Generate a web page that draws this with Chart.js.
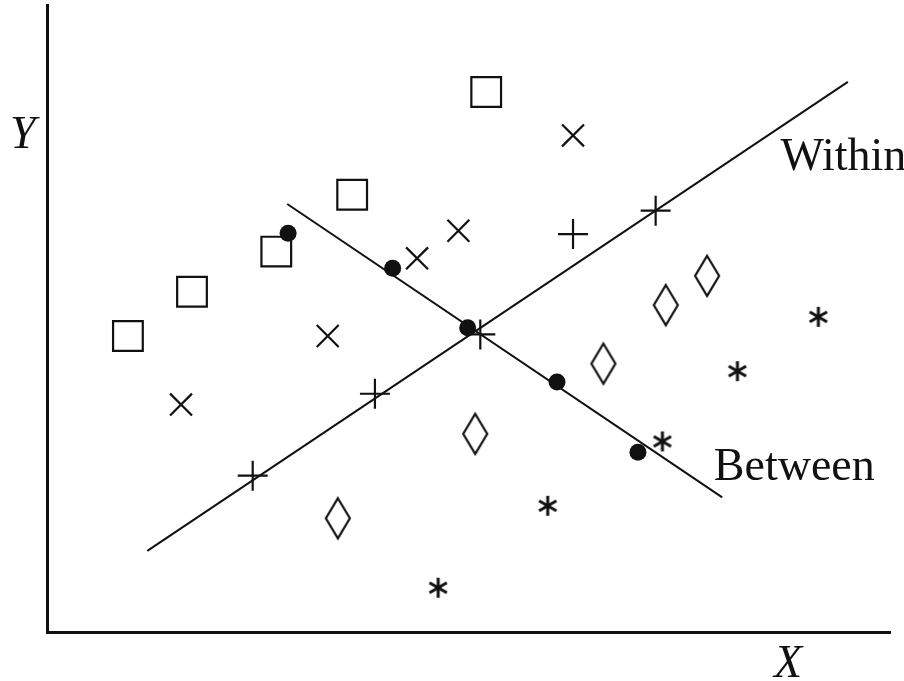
<!DOCTYPE html>
<html>
<head>
<meta charset="utf-8">
<script src="https://cdn.jsdelivr.net/npm/chart.js@4.4.0/dist/chart.umd.min.js"></script>
<style>
  html, body { margin: 0; padding: 0; background: #fff; }
  #wrap { width: 904px; height: 681px; }
</style>
</head>
<body>
<div id="wrap"><canvas id="myChart"></canvas></div>
<script>
// groups of points (x, y)
const squares   = [[9.6, 35.4], [17.2, 40.7], [27.2, 45.5], [36.2, 52.3], [52.1, 64.6]];
const crosses   = [[15.9, 27.2], [33.3, 35.4], [43.9, 44.7], [48.8, 48.0], [62.4, 59.4]];
const pluses    = [[24.4, 18.7], [38.9, 28.5], [51.4, 35.6], [62.4, 47.6], [72.2, 50.4]];
const diamonds  = [[34.5, 13.6], [50.8, 23.7], [66.0, 32.1], [73.4, 39.1], [78.3, 42.6]];
const stars     = [[46.4, 5.3], [59.4, 15.1], [73.0, 22.8], [81.9, 31.2], [91.5, 37.7]];
const means     = [[28.6, 47.7], [41.0, 43.5], [49.9, 36.4], [60.5, 29.9], [70.1, 21.5]];

const withinLine  = [[11.9, 9.7], [95.0, 65.8]];
const betweenLine = [[28.5, 51.2], [80.1, 16.1]];

const labels = [
    { text: 'Within', x: 87.0, y: 55.3 },
    { text: 'Between', x: 79.1, y: 18.2 }
];

const toXY = (arr) => arr.map(p => ({ x: p[0], y: p[1] }));

// tall diamond marker
const diamondImg = document.createElement('canvas');
diamondImg.width = 30;
diamondImg.height = 46;
(function () {
    const c = diamondImg.getContext('2d');
    c.strokeStyle = '#111';
    c.lineWidth = 2.2;
    c.beginPath();
    c.moveTo(15, 3);
    c.lineTo(27, 23);
    c.lineTo(15, 43);
    c.lineTo(3, 23);
    c.closePath();
    c.stroke();
})();

// six-armed asterisk marker
const starImg = document.createElement('canvas');
starImg.width = 26;
starImg.height = 26;
(function () {
    const c = starImg.getContext('2d');
    c.strokeStyle = '#111';
    c.lineWidth = 3;
    const r = 10;
    for (let i = 0; i < 3; i++) {
        const a = Math.PI / 2 + i * Math.PI / 3;
        c.beginPath();
        c.moveTo(13 - r * Math.cos(a), 13 - r * Math.sin(a));
        c.lineTo(13 + r * Math.cos(a), 13 + r * Math.sin(a));
        c.stroke();
    }
})();

const textPlugin = {
    id: 'figText',
    afterDraw(chart) {
        const c = chart.ctx;
        const xs = chart.scales.x, ys = chart.scales.y;
        const area = chart.chartArea;
        c.save();
        c.fillStyle = '#111';
        c.textBaseline = 'alphabetic';
        c.font = '46px "Liberation Serif"';
        labels.forEach(l => {
            c.fillText(l.text, xs.getPixelForValue(l.x), ys.getPixelForValue(l.y));
        });
        c.font = 'italic 46px "Liberation Serif"';
        c.fillText('Y', area.left - 37, 148);
        c.fillText('X', area.left + 727, 677);
        c.restore();
    }
};

const pointSet = (data, style, radius, extra) => Object.assign({
    type: 'scatter',
    data: toXY(data),
    pointStyle: style,
    pointRadius: radius,
    pointHoverRadius: radius,
    borderColor: '#111',
    backgroundColor: 'rgba(0,0,0,0)',
    pointBorderWidth: 2.2,
    showLine: false
}, extra || {});

const lineSet = (data) => ({
    type: 'line',
    data: toXY(data),
    borderColor: '#111',
    borderWidth: 2,
    pointRadius: 0,
    fill: false
});

const ctx = document.getElementById('myChart').getContext('2d');

const myChart = new Chart(ctx, {
    data: {
        datasets: [
            lineSet(withinLine),
            lineSet(betweenLine),
            pointSet(squares, 'rect', 21),
            pointSet(crosses, 'crossRot', 15.5),
            pointSet(pluses, 'cross', 15),
            pointSet(diamonds, diamondImg, 15),
            pointSet(stars, starImg, 13),
            pointSet(means, 'circle', 8.5, { backgroundColor: '#111', pointBorderWidth: 0 })
        ]
    },
    options: {
        responsive: true,
        maintainAspectRatio: false,
        animation: false,
        layout: {
            autoPadding: false,
            padding: { left: 39, right: 14, top: 5, bottom: 41 }
        },
        plugins: {
            legend: { display: false },
            tooltip: { enabled: false }
        },
        scales: {
            x: {
                type: 'linear',
                min: 0,
                max: 100,
                ticks: { display: false },
                grid: { display: false },
                border: { display: true, color: '#111', width: 3 }
            },
            y: {
                type: 'linear',
                min: 0,
                max: 75,
                ticks: { display: false },
                grid: { display: false },
                border: { display: true, color: '#111', width: 3 }
            }
        }
    },
    plugins: [textPlugin]
});
</script>
</body>
</html>
